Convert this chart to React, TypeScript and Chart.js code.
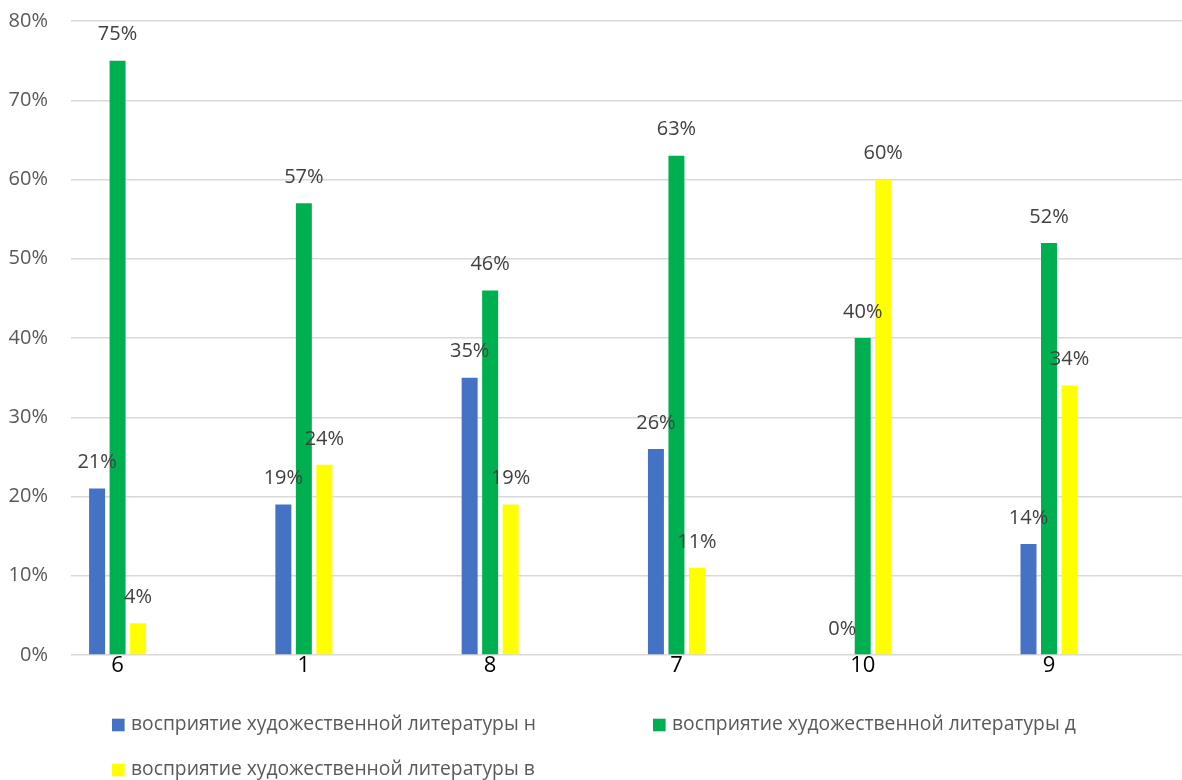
import React, { useEffect, useRef } from "react";
import { Chart, registerables } from "chart.js";

Chart.register(...registerables);

// ---- data ----
const categories = ["6", "1", "8", "7", "10", "9"];
const seriesNames = [
  "восприятие художественной литературы н",
  "восприятие художественной литературы д",
  "восприятие художественной литературы в",
];
const valuesN = [21, 19, 35, 26, 0, 14];
const valuesD = [75, 57, 46, 63, 40, 52];
const valuesV = [4, 24, 19, 11, 60, 34];
const seriesColors = ["#4472C4", "#00B050", "#FFFF00"];
const yMax = 80;
const yStep = 10;

const FONT = "'Open Sans', 'Noto Sans', 'DejaVu Sans', sans-serif";

const valueLabelPlugin = {
  id: "valueLabels",
  afterDatasetsDraw(chart: any) {
    const ctx = chart.ctx;
    ctx.save();
    ctx.font = `20px ${FONT}`;
    ctx.fillStyle = "#404040";
    ctx.textAlign = "center";
    ctx.textBaseline = "middle";
    chart.data.datasets.forEach((ds: any, di: number) => {
      const meta = chart.getDatasetMeta(di);
      meta.data.forEach((el: any, i: number) => {
        const v = ds.data[i].y;
        ctx.fillText(`${v}%`, el.x, el.y - 26);
      });
    });
    ctx.restore();
  },
};

const legendPlugin = {
  id: "columnLegend",
  afterDraw(chart: any) {
    const ctx = chart.ctx;
    const ca = chart.chartArea;
    const cols = [ca.left + 41, ca.left + 582];
    const rows = [ca.bottom + 70, ca.bottom + 115];
    const box = 12.6;
    ctx.save();
    ctx.font = `19.3px ${FONT}`;
    ctx.textAlign = "left";
    ctx.textBaseline = "middle";
    chart.data.datasets.forEach((ds: any, i: number) => {
      const x = cols[i % 2];
      const y = rows[Math.floor(i / 2)];
      ctx.fillStyle = ds.backgroundColor;
      ctx.fillRect(x, y - box / 2, box, box);
      ctx.fillStyle = "#595959";
      ctx.fillText(ds.label, x + 19, y);
    });
    ctx.restore();
  },
};

export default function App() {
  const ref = useRef<HTMLCanvasElement | null>(null);

  useEffect(() => {
    if (!ref.current) return;
    const series = [valuesN, valuesD, valuesV];
    const chart = new Chart(ref.current, {
      type: "bar",
      data: {
        datasets: series.map((vals, si) => ({
          label: seriesNames[si],
          data: vals.map((v, i) => ({ x: i, y: v })),
          backgroundColor: seriesColors[si],
          borderWidth: 0,
          categoryPercentage: 0.33,
          barPercentage: 0.78,
        })),
      },
      options: {
        animation: false,
        responsive: false,
        layout: { padding: { top: 21, right: 0, bottom: 85, left: 0 } },
        plugins: {
          legend: { display: false },
          tooltip: { enabled: false },
        },
        scales: {
          x: {
            type: "linear",
            min: -0.25,
            max: 5.714,
            offset: false,
            grid: { display: false, drawTicks: false, offset: false },
            border: { display: false },
            ticks: {
              stepSize: 1,
              includeBounds: false,
              autoSkip: false,
              padding: -2,
              color: "#000000",
              font: { family: FONT, size: 22 },
              callback: (v: any) => {
                const idx = Number(v);
                return Number.isInteger(idx) && categories[idx] !== undefined ? categories[idx] : "";
              },
            },
            afterFit: (s: any) => {
              s.height = 40;
            },
          },
          y: {
            min: 0,
            max: yMax,
            grid: {
              color: "#D9D9D9",
              lineWidth: 1.5,
              drawTicks: true,
              tickLength: 23,
              tickColor: "rgba(0,0,0,0)",
            },
            border: { display: false },
            ticks: {
              stepSize: yStep,
              padding: 0,
              color: "#595959",
              font: { family: FONT, size: 20 },
              callback: (v: any) => `${v}%`,
            },
            afterFit: (s: any) => {
              s.width = 71;
            },
          },
        },
      },
      plugins: [valueLabelPlugin, legendPlugin],
    });
    return () => chart.destroy();
  }, []);

  return (
    <div style={{ position: "absolute", left: 0, top: 0, width: 1182, height: 780, background: "#fff" }}>
      <canvas ref={ref} width={1182} height={780} style={{ display: "block" }} />
    </div>
  );
}
